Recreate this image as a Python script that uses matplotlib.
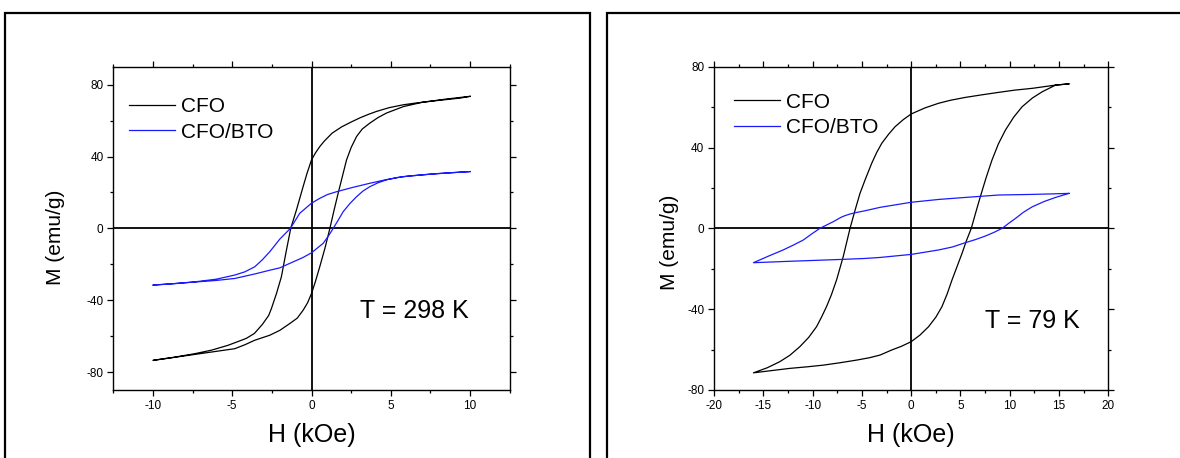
import matplotlib
matplotlib.use("Agg")
import matplotlib.pyplot as plt
from matplotlib.patches import Rectangle
from matplotlib.ticker import MultipleLocator

plt.rcParams['font.family'] = ['Liberation Sans', 'DejaVu Sans']
plt.rcParams['axes.unicode_minus'] = False

# ---- T = 298 K, CFO ----
cfo298_h_down = [10, 9.36, 8.4, 7.47, 6.6, 5.79, 4.9, 4.1, 3.6, 3.1, 2.5, 1.9, 1.3, 0.8, 0.52, 0.25, 0,
                 -0.28, -0.53, -0.95, -1.31, -1.58, -1.9, -2.21, -2.53, -2.7, -3.1, -3.6, -4.1, -4.42,
                 -5.26, -6.3, -7.37, -8.7, -10]
cfo298_m_down = [73.5, 72.5, 71.6, 70.7, 69.8, 68.8, 67.2, 65.1, 63.5, 61.7, 59.2, 56.5, 53, 48.5, 45.5, 42, 38.1,
                 30.7, 23.2, 10.2, 0, -12.1, -27, -36.3, -44.7, -48.5, -53.5, -58.5, -61.2, -62.3,
                 -65.1, -67.8, -69.8, -71.8, -73.5]
cfo298_h_up = [-10, -8.7, -7.37, -6.1, -4.84, -4.2, -3.58, -2.63, -2.0, -1.37, -0.9, -0.53, -0.25, 0, 0.25,
               0.52, 0.85, 1.16, 1.42, 1.68, 1.95, 2.21, 2.5, 2.84, 3.2, 3.68, 4.2, 4.73, 5.8, 7.0, 8.5, 10]
cfo298_m_up = [-73.5, -71.9, -70.2, -68.6, -67, -64.8, -62.3, -59.5, -56.8, -53, -50, -45.6, -41.5, -36.3, -29.5,
               -21.4, -11, 0, 10, 19.5, 29, 38.1, 45, 51.1, 55.3, 58.6, 61.7, 64.2, 67.8, 70.2, 72, 73.5]

# ---- T = 298 K, CFO/BTO ----
bto298_h_down = [10, 9.36, 7.5, 5.79, 4.7, 3.68, 2.6, 1.58, 1.0, 0.52, 0, -0.74, -1.33, -2.0, -2.63, -3.1,
                 -3.58, -4.2, -4.84, -6.0, -7.37, -8.7, -10]
bto298_m_down = [31.6, 31.3, 30.2, 28.8, 27.1, 25.1, 22.8, 20.4, 18.8, 16.7, 14, 8.4, 0, -6, -13, -17.5,
                 -21.4, -24.2, -26, -28.3, -29.8, -30.8, -31.6]
bto298_h_up = [-10, -8.7, -7.37, -6.0, -4.84, -3.58, -2.63, -2.0, -1.37, -0.53, 0, 0.73, 1.05, 1.37, 1.7,
               2.0, 2.42, 2.84, 3.25, 3.68, 4.2, 4.73, 5.4, 6.2, 8.0, 10]
bto298_m_up = [-31.6, -30.8, -29.9, -29.0, -27.9, -25.4, -23.3, -22.0, -19.5, -16.2, -13.6, -8.4, -4.5, 0, 4.8,
               9.3, 13.8, 17.6, 20.8, 23.2, 25.4, 27, 28.3, 29.2, 30.5, 31.6]

# ---- T = 79 K, CFO ----
cfo79_h_down = [16, 14.65, 12.3, 10.5, 8.88, 7.2, 5.49, 4.0, 2.78, 1.4, 0, -0.8, -1.63, -2.3, -2.98, -3.5,
                -4.0, -4.68, -5.19, -5.7, -6.2, -6.89, -7.57, -8.1, -8.59, -9.1, -9.6, -10.4, -11.3,
                -12.3, -13.33, -14.6, -16]
cfo79_m_down = [71.5, 70.9, 69.3, 68.4, 67.3, 66.1, 64.8, 63.4, 61.9, 59.6, 56.6, 53.8, 50.3, 46.5, 42.1, 37.5,
                32.2, 23.9, 17.3, 8.8, 0, -14, -25.6, -33, -38.8, -44, -48.7, -54, -58.6,
                -62.8, -66, -69, -71.5]
cfo79_h_up = [-16, -14, -12.3, -10.5, -8.92, -7.2, -5.53, -4.2, -3.15, -1.97, -1.0, 0, 0.9, 1.76, 2.5, 3.12,
              3.65, 4.14, 4.65, 5.16, 5.6, 6.1, 6.55, 7.02, 7.6, 8.2, 8.85, 9.56, 10.4, 11.26, 12.3, 13.3,
              14.65, 16]
cfo79_m_up = [-71.5, -70.3, -69.3, -68.5, -67.7, -66.5, -65.2, -64, -62.7, -60.2, -58.4, -56.1, -52.8, -48.7,
              -44, -38.8, -32.5, -25.6, -19, -12.4, -6.2, 0, 7.8, 15.7, 25, 33.8, 41.8, 48.6, 55, 60.2,
              64.5, 67.6, 70.9, 71.5]

# ---- T = 79 K, CFO/BTO ----
bto79_h_down = [16, 14.65, 12.3, 8.88, 5.49, 2.78, 0, -3.15, -4.68, -5.4, -6.2, -6.7, -7.1, -7.9, -8.6,
                -9.26, -10.1, -10.95, -12.0, -12.99, -14.5, -16]
bto79_m_down = [17.3, 17.1, 16.8, 16.5, 15.3, 14.3, 12.9, 10.4, 8.7, 8.0, 7.1, 6.3, 5.5, 3.3, 1.6,
                0, -2.8, -5.8, -8.4, -10.7, -13.8, -17]
bto79_h_up = [-16, -12.3, -7.22, -4.68, -3.15, 0, 2.78, 4.2, 5.49, 6.5, 7.53, 8.4, 9.23, 9.9, 10.58,
              11.4, 12.3, 13.5, 14.65, 16]
bto79_m_up = [-17, -16.3, -15.4, -14.9, -14.4, -12.9, -10.7, -9.2, -7.1, -5.6, -3.8, -2.0, 0, 2.5, 4.9,
              8.0, 10.7, 13.3, 15.3, 17.3]

labels = ["CFO", "CFO/BTO"]
colors = ["black", "#1a1aff"]

fig = plt.figure(figsize=(11.8, 4.58), dpi=100)

# outer frames around each panel
fig.add_artist(Rectangle((5 / 1180, -0.1), 585 / 1180, 1.1 - 12.5 / 458, transform=fig.transFigure,
                         fill=False, lw=1.6, ec="black", clip_on=False))
fig.add_artist(Rectangle((607 / 1180, -0.1), 0.6, 1.1 - 12.5 / 458, transform=fig.transFigure,
                         fill=False, lw=1.6, ec="black", clip_on=False))

ax1 = fig.add_axes([113.3 / 1180, 68 / 458, 396.4 / 1180, 323.3 / 458])
ax2 = fig.add_axes([714 / 1180, 68 / 458, 394.3 / 1180, 323.3 / 458])

panels = [
    (ax1, [(cfo298_h_down + cfo298_h_up, cfo298_m_down + cfo298_m_up),
           (bto298_h_down + bto298_h_up, bto298_m_down + bto298_m_up)],
     (-12.5, 12.5), (-90, 90), "T = 298 K", (0.622, 0.223), (0.04, 0.905)),
    (ax2, [(cfo79_h_down + cfo79_h_up, cfo79_m_down + cfo79_m_up),
           (bto79_h_down + bto79_h_up, bto79_m_down + bto79_m_up)],
     (-20, 20), (-80, 80), "T = 79 K", (0.687, 0.192), (0.051, 0.92)),
]

for ax, series, xlim, ylim, ttext, tpos, legpos in panels:
    ax.axhline(0, color="black", lw=1.3, zorder=1)
    ax.axvline(0, color="black", lw=1.3, zorder=1)
    for (h, m), lab, col in zip(series, labels, colors):
        ax.plot(h, m, color=col, lw=0.9, label=lab, zorder=2)
    ax.set_xlim(*xlim)
    ax.set_ylim(*ylim)
    ax.xaxis.set_major_locator(MultipleLocator(5))
    ax.xaxis.set_minor_locator(MultipleLocator(2.5))
    ax.yaxis.set_major_locator(MultipleLocator(40))
    ax.yaxis.set_minor_locator(MultipleLocator(20))
    ax.tick_params(which="both", direction="out", top=True, right=True, labelsize=8.5, width=0.9, pad=3)
    ax.tick_params(which="major", length=4)
    ax.tick_params(which="minor", length=2.5)
    for s in ax.spines.values():
        s.set_linewidth(1.0)
    ax.set_xlabel("H (kOe)", fontsize=18, va="center")
    ax.xaxis.set_label_coords(0.5, -0.139)
    ax.set_ylabel("M (emu/g)", fontsize=15, va="center")
    ax.legend(loc="upper left", bbox_to_anchor=legpos, frameon=False, fontsize=15,
              handlelength=2.2, handletextpad=0.3, labelspacing=0.3, borderpad=0, borderaxespad=0)
    ax.text(tpos[0], tpos[1], ttext, transform=ax.transAxes, fontsize=18, va="baseline")

ax1.yaxis.set_label_coords(-0.146, 0.473)
ax2.yaxis.set_label_coords(-0.114, 0.456)

fig.savefig("out.png", dpi=100)
